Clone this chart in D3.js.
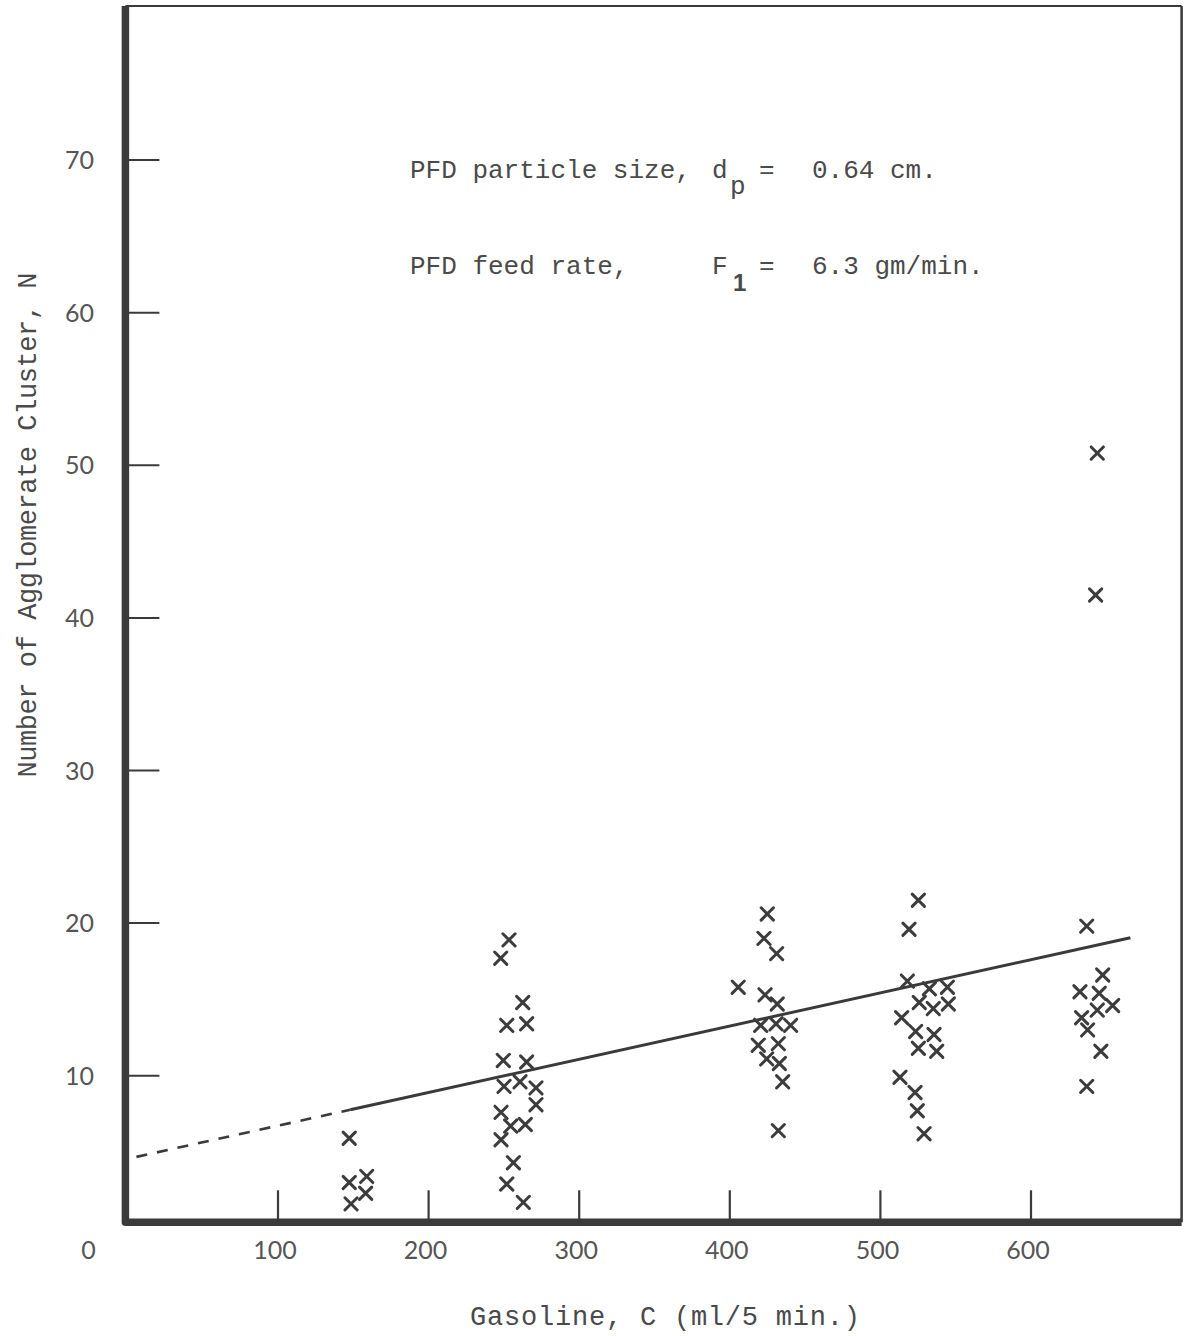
<!DOCTYPE html>
<html>
<head>
<meta charset="utf-8">
<script src="https://cdn.jsdelivr.net/npm/d3@7"></script>
<style>
  html, body { margin: 0; padding: 0; background: #ffffff; }
  svg { display: block; }
</style>
</head>
<body>
<svg id="chart" width="1193" height="1336"></svg>
<script>
// ---- data ----
const gasolineC = [
  147.3, 147.3, 158.9, 158.2, 148.5,
  253.4, 247.9, 262.5, 251.9, 265.1, 249.6, 265.1, 250.1, 260.7, 271.3, 271.3, 248.1, 254.5, 264.2, 248.1, 256.3, 251.9, 262.9,
  405.6, 424.9, 422.7, 431.1, 423.4, 431.5, 420.5, 430.7, 440.4, 418.9, 432.2, 424.5, 432.9, 435.1, 432.2,
  525.2, 519.0, 517.9, 532.5, 544.5, 525.8, 535.1, 545.1, 514.1, 523.4, 535.6, 525.2, 537.4, 513.0, 523.0, 524.5, 529.0,
  644.0, 642.9, 637.0, 647.6, 632.5, 645.3, 654.2, 644.0, 633.6, 637.6, 646.4, 637.0
];
const clusterN = [
  5.9, 3.0, 3.4, 2.3, 1.6,
  18.9, 17.7, 14.8, 13.3, 13.4, 11.0, 10.9, 9.3, 9.6, 9.2, 8.1, 7.6, 6.7, 6.8, 5.8, 4.3, 2.9, 1.7,
  15.8, 20.6, 19.0, 18.0, 15.3, 14.7, 13.3, 13.4, 13.3, 12.0, 12.1, 11.1, 10.8, 9.6, 6.4,
  21.5, 19.6, 16.2, 15.7, 15.8, 14.8, 14.4, 14.7, 13.8, 12.9, 12.7, 11.8, 11.6, 9.9, 8.9, 7.7, 6.2,
  50.8, 41.5, 19.8, 16.6, 15.5, 15.4, 14.6, 14.3, 13.8, 13.0, 11.6, 9.3
];
// fitted line: dashed extrapolation then solid part
const fitDashedC = [6, 148];
const fitDashedN = [4.68, 7.77];
const fitSolidC = [148, 666];
const fitSolidN = [7.77, 19.04];

const xTicks = [100, 200, 300, 400, 500, 600];
const yTicks = [10, 20, 30, 40, 50, 60, 70];
const xTitle = "Gasoline, C (ml/5 min.)";
const yTitle = "Number of Agglomerate Cluster, N";

(function () {
// ---- scales ----
const x = d3.scaleLinear().domain([0, 700]).range([127.4, 1181.6]);
const y = d3.scaleLinear().domain([0, 80]).range([1228.3, 7.5]);

const svg = d3.select("#chart");
const ink = "#3a3a3a";
const mono = "'Liberation Mono', 'DejaVu Sans Mono', monospace";
const sans = "Lato, 'Open Sans', 'Liberation Sans', sans-serif";

const fLeft = x(0) - 2, fRight = x(700), fTop = y(80) - 1.5, fBottom = y(0) - 6;

// frame: top and right thin lines
svg.append("line").attr("x1", fLeft).attr("x2", fRight).attr("y1", fTop).attr("y2", fTop)
  .attr("stroke", ink).attr("stroke-width", 2);
svg.append("line").attr("x1", fRight).attr("x2", fRight).attr("y1", fTop).attr("y2", fBottom)
  .attr("stroke", ink).attr("stroke-width", 2.5);

// y ticks (pointing inward)
const gy = svg.append("g");
gy.selectAll("line").data(yTicks).join("line")
  .attr("x1", fLeft).attr("x2", fLeft + 34)
  .attr("y1", d => y(d)).attr("y2", d => y(d))
  .attr("stroke", ink).attr("stroke-width", 2);
gy.selectAll("text").data(yTicks).join("text")
  .attr("x", 94).attr("y", d => y(d)).attr("dy", "0.36em")
  .attr("text-anchor", "end")
  .attr("font-family", sans).attr("font-size", 25).attr("fill", "#555")
  .text(d => d);

// x ticks (pointing up)
const gx = svg.append("g");
gx.selectAll("line").data(xTicks).join("line")
  .attr("x1", d => x(d)).attr("x2", d => x(d))
  .attr("y1", fBottom).attr("y2", fBottom - 32)
  .attr("stroke", ink).attr("stroke-width", 2.2);
gx.selectAll("text").data(xTicks).join("text")
  .attr("x", d => x(d) - 3).attr("y", 1259)
  .attr("text-anchor", "middle")
  .attr("font-family", sans).attr("font-size", 25).attr("fill", "#555")
  .text(d => d);

// origin label
svg.append("text").attr("x", x(0) - 39).attr("y", 1259)
  .attr("text-anchor", "middle")
  .attr("font-family", sans).attr("font-size", 25).attr("fill", "#555")
  .text("0");

// thick left and bottom axes
svg.append("path")
  .attr("d", `M${fLeft},${fTop}L${fLeft},${fBottom}L${fRight},${fBottom}`)
  .attr("fill", "none").attr("stroke", ink).attr("stroke-width", 7.5)
  .attr("stroke-linejoin", "round");

// fitted line
const line = d3.line().x(d => x(d[0])).y(d => y(d[1]));
svg.append("path")
  .attr("d", line(d3.zip(fitDashedC, fitDashedN)))
  .attr("fill", "none").attr("stroke", ink).attr("stroke-width", 2.6)
  .attr("stroke-dasharray", "11,10");
svg.append("path")
  .attr("d", line(d3.zip(fitSolidC, fitSolidN)))
  .attr("fill", "none").attr("stroke", ink).attr("stroke-width", 3);

// points: typewriter crosses
const sym = d3.symbol().type(d3.symbolX).size(100);
svg.append("g").selectAll("path").data(d3.zip(gasolineC, clusterN)).join("path")
  .attr("transform", d => `translate(${x(d[0])},${y(d[1])})`)
  .attr("d", sym)
  .attr("fill", "none").attr("stroke", "#3c3c3c").attr("stroke-width", 3)
  .attr("stroke-linecap", "round");

// annotation text
const ann = svg.append("g").attr("font-family", mono).attr("font-size", 26).attr("fill", "#4a4a4a");
const t1 = ann.append("text").attr("x", 410).attr("y", 178);
t1.append("tspan").text("PFD particle size,");
t1.append("tspan").attr("x", 712).text("d");
t1.append("tspan").attr("x", 730).attr("dy", 16).text("p");
t1.append("tspan").attr("x", 759).attr("dy", -16).text("=");
t1.append("tspan").attr("x", 812).text("0.64 cm.");

const t2 = ann.append("text").attr("x", 410).attr("y", 274);
t2.append("tspan").text("PFD feed rate,");
t2.append("tspan").attr("x", 712).text("F");
t2.append("tspan").attr("x", 733).attr("dy", 17)
  .attr("font-family", "'Liberation Sans', sans-serif").attr("font-weight", "bold").attr("font-size", 24).text("1");
t2.append("tspan").attr("x", 759).attr("dy", -17).text("=");
t2.append("tspan").attr("x", 812).text("6.3 gm/min.");

// axis titles
svg.append("text")
  .attr("transform", "translate(36,525) rotate(-90)")
  .attr("text-anchor", "middle")
  .attr("font-family", mono).attr("font-size", 27).attr("fill", "#4a4a4a")
  .attr("textLength", 505).attr("lengthAdjust", "spacing")
  .text(yTitle);

svg.append("text")
  .attr("x", 665).attr("y", 1325)
  .attr("text-anchor", "middle")
  .attr("font-family", mono).attr("font-size", 27).attr("fill", "#4a4a4a")
  .attr("textLength", 390).attr("lengthAdjust", "spacing")
  .text(xTitle);
})();
</script>
</body>
</html>
